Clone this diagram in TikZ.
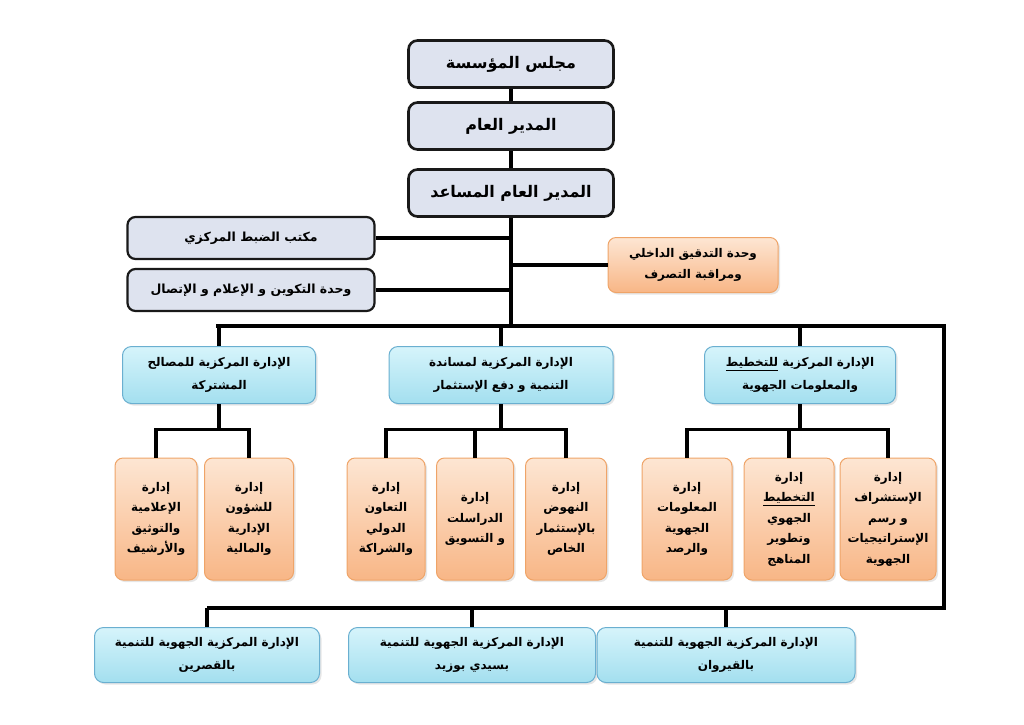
\documentclass[tikz,border=0pt]{standalone}
\usepackage{fontspec}
\newfontfamily\arabicfont[Script=Arabic]{DejaVu Sans}
\TeXXeTstate=1
\usetikzlibrary{shadows}
\newcommand{\ar}[1]{\beginR #1\endR}

\definecolor{boardfill}{HTML}{DEE3EF}
\definecolor{cyantop}{HTML}{D6F4FB}
\definecolor{cyanbot}{HTML}{A3DFEF}
\definecolor{cyanline}{HTML}{6AAFD0}
\definecolor{orangetop}{HTML}{FDE6D3}
\definecolor{orangebot}{HTML}{F8B686}
\definecolor{orangeline}{HTML}{EFA468}

\begin{document}
\begin{tikzpicture}[x=1pt, y=-1pt,
    font=\arabicfont\bfseries,
    topbox/.style={draw=black!90, line width=2.6pt, fill=boardfill, rounded corners=9pt,
        minimum width=205pt, minimum height=47pt, font=\arabicfont\bfseries\fontsize{16}{19}\selectfont},
    sidebox/.style={draw=black!90, line width=2.2pt, fill=boardfill, rounded corners=8pt,
        minimum width=247pt, minimum height=42pt, font=\arabicfont\bfseries\fontsize{12.5}{15}\selectfont},
    auditbox/.style={draw=orangeline, line width=1pt, top color=orangetop, bottom color=orangebot,
        rounded corners=8pt, minimum width=170pt, minimum height=55pt, align=center,
        drop shadow={opacity=0.2, shadow xshift=2pt, shadow yshift=-2pt},
        font=\arabicfont\bfseries\fontsize{12}{21}\selectfont},
    deptbox/.style={draw=cyanline, line width=1pt, top color=cyantop, bottom color=cyanbot,
        rounded corners=9pt, minimum height=57pt, align=center,
        drop shadow={opacity=0.2, shadow xshift=2pt, shadow yshift=-2pt},
        font=\arabicfont\bfseries\fontsize{12}{23}\selectfont},
    unitbox/.style={draw=orangeline, line width=1pt, top color=orangetop, bottom color=orangebot,
        rounded corners=8pt, minimum height=122pt, align=center,
        drop shadow={opacity=0.2, shadow xshift=2pt, shadow yshift=-2pt},
        font=\arabicfont\bfseries\fontsize{12}{20.5}\selectfont},
    link/.style={line width=3.4pt, black}]

    \useasboundingbox (0,0) rectangle (1024,724);

    % Direction
    \node[topbox] (board) at (511,64) {\ar{مجلس المؤسسة}};
    \node[topbox] (gm) at (511,126) {\ar{المدير العام}};
    \node[topbox] (agm) at (511,193) {\ar{المدير العام المساعد}};

    % Attached units
    \node[sidebox] (ctrl) at (251,238) {\ar{مكتب الضبط المركزي}};
    \node[sidebox] (comm) at (251,290) {\ar{وحدة التكوين و الإعلام و الإتصال}};
    \node[auditbox] (audit) at (693,265) {\ar{وحدة التدقيق الداخلي}\\\ar{ومراقبة التصرف}};

    % Buses
    \coordinate (busL) at (216,326);
    \coordinate (busR) at (944,326);
    \coordinate (lowR) at (944,608);
    \coordinate (lowL) at (207,608);

    % Central departments
    \node[deptbox, minimum width=193pt] (shared) at (219,375)
        {\ar{الإدارة المركزية للمصالح}\\\ar{المشتركة}};
    \node[deptbox, minimum width=224pt] (invest) at (501,375)
        {\ar{الإدارة المركزية لمساندة}\\\ar{التنمية و دفع الإستثمار}};
    \node[deptbox, minimum width=191pt] (plan) at (800,375)
        {\ar{الإدارة المركزية \underline{للتخطيط}}\\\ar{والمعلومات الجهوية}};

    % Units
    \node[unitbox, minimum width=82pt] (archive) at (156,519)
        {\ar{إدارة}\\\ar{الإعلامية}\\\ar{والتوثيق}\\\ar{والأرشيف}};
    \node[unitbox, minimum width=89pt] (admin) at (249,519)
        {\ar{إدارة}\\\ar{للشؤون}\\\ar{الإدارية}\\\ar{والمالية}};
    \node[unitbox, minimum width=78pt] (coop) at (386,519)
        {\ar{إدارة}\\\ar{التعاون}\\\ar{الدولي}\\\ar{والشراكة}};
    \node[unitbox, minimum width=77pt] (study) at (475,519)
        {\ar{إدارة}\\\ar{الدراسلت}\\\ar{و التسويق}};
    \node[unitbox, minimum width=81pt] (promo) at (566,519)
        {\ar{إدارة}\\\ar{النهوض}\\\ar{بالإستثمار}\\\ar{الخاص}};
    \node[unitbox, minimum width=90pt] (info) at (687,519)
        {\ar{إدارة}\\\ar{المعلومات}\\\ar{الجهوية}\\\ar{والرصد}};
    \node[unitbox, minimum width=90pt] (method) at (789,519)
        {\ar{إدارة}\\\ar{\underline{التخطيط}}\\\ar{الجهوي}\\\ar{وتطوير}\\\ar{المناهج}};
    \node[unitbox, minimum width=96pt] (foresight) at (888,519)
        {\ar{إدارة}\\\ar{الإستشراف}\\\ar{و رسم}\\\ar{الإستراتيجيات}\\\ar{الجهوية}};

    % Regional departments
    \node[deptbox, minimum width=225pt, minimum height=55pt] (kasserine) at (207,655)
        {\ar{الإدارة المركزية الجهوية للتنمية}\\\ar{بالقصرين}};
    \node[deptbox, minimum width=247pt, minimum height=55pt] (sidi) at (472,655)
        {\ar{الإدارة المركزية الجهوية للتنمية}\\\ar{بسيدي بوزيد}};
    \node[deptbox, minimum width=258pt, minimum height=55pt] (kairouan) at (726,655)
        {\ar{الإدارة المركزية الجهوية للتنمية}\\\ar{بالقيروان}};

    % Links
    \draw[link] (board) -- (gm);
    \draw[link] (gm) -- (agm);
    \draw[link] (agm) -- (agm |- busL);
    \draw[link] (ctrl.east) -- (ctrl.east -| agm);
    \draw[link] (comm.east) -- (comm.east -| agm);
    \draw[link] (audit.west) -- (audit.west -| agm);
    \draw[link] (busL) -- (busR) -- (lowR) -- (lowL);
    \foreach \d in {shared, invest, plan}
        \draw[link] (\d.north |- busL) -- (\d);
    \foreach \d in {kasserine, sidi, kairouan}
        \draw[link] (\d.north |- lowL) -- (\d);

    \draw[link] (shared) -- (shared |- 0,430);
    \draw[link] (archive.north) -- ++(0,-28) -| (admin.north);
    \draw[link] (invest) -- (invest |- 0,430);
    \draw[link] (coop.north) -- ++(0,-28) -| (promo.north);
    \draw[link] (study.north) -- ++(0,-28);
    \draw[link] (plan) -- (plan |- 0,430);
    \draw[link] (info.north) -- ++(0,-28) -| (foresight.north);
    \draw[link] (method.north) -- ++(0,-28);

\end{tikzpicture}
\end{document}
